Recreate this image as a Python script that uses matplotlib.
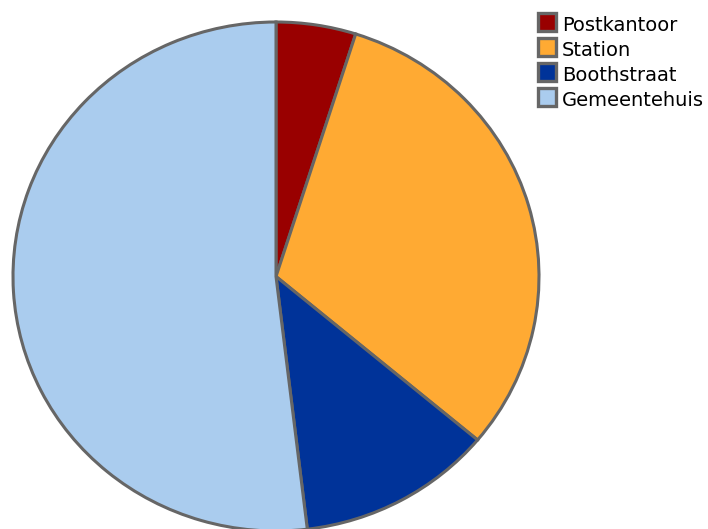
import matplotlib
matplotlib.use("Agg")
import matplotlib.pyplot as plt
from matplotlib.patches import Rectangle

labels = ["Postkantoor", "Station", "Boothstraat", "Gemeentehuis"]
values = [4.9, 31.2, 12.0, 51.9]
colors = ["#990000", "#ffaa33", "#003399", "#aaccee"]

W, H = 708, 529
fig = plt.figure(figsize=(W / 100, H / 100), dpi=100)
fig.patch.set_facecolor("white")

# pie box in pixels: x 13..539, y 22..531 (slightly wider than tall)
ax = fig.add_axes([13 / W, (H - 531) / H, 526 / W, 509 / H])
ax.pie(
    values,
    colors=colors,
    startangle=90,
    counterclock=False,
    radius=1,
    wedgeprops=dict(edgecolor="#666666", linewidth=2.2),
)
ax.set_aspect("auto")
ax.set_xlim(-1, 1)
ax.set_ylim(-1, 1)
ax.axis("off")

# legend drawn by hand, top right
box = 18
for i, (lab, col) in enumerate(zip(labels, colors)):
    top = 12.5 + 25 * i
    fig.patches.append(
        Rectangle(
            (538 / W, (H - top - box) / H),
            box / W,
            box / H,
            transform=fig.transFigure,
            facecolor=col,
            edgecolor="#666666",
            linewidth=2.4,
        )
    )
    fig.text(562 / W, (H - 31 - 25 * i) / H, lab, ha="left", va="baseline",
             fontsize=14, family="DejaVu Sans", color="black")

fig.savefig("out.png", dpi=100)
